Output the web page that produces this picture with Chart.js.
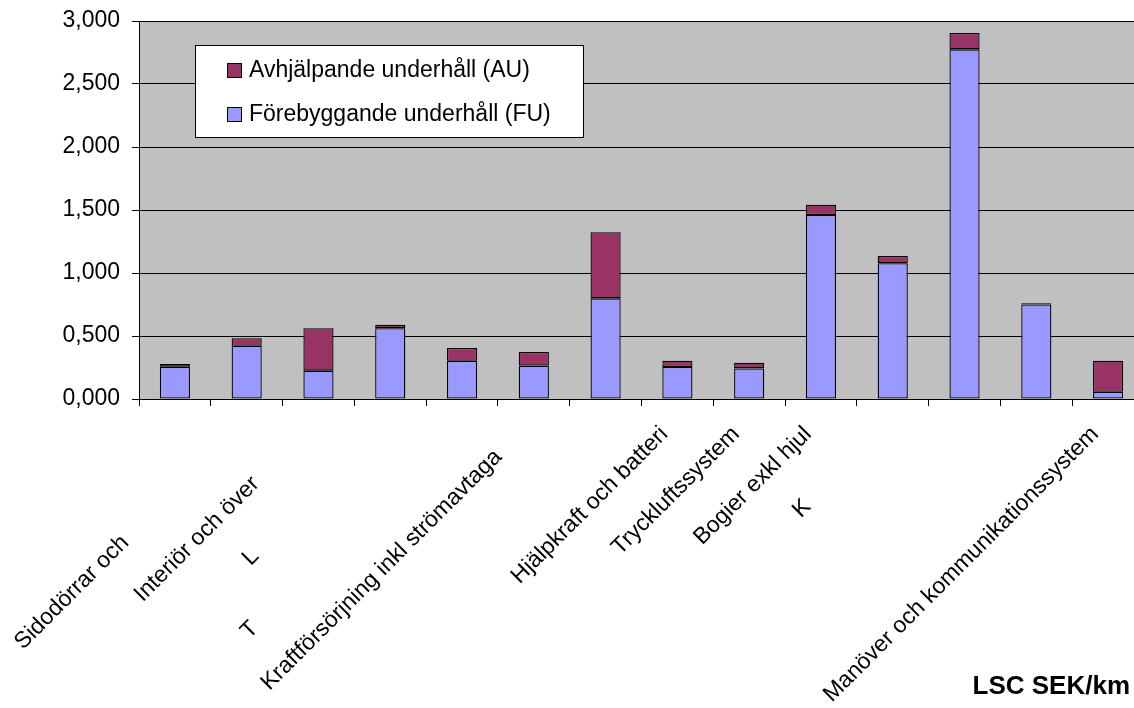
<!DOCTYPE html>
<html>
<head>
<meta charset="utf-8">
<script src="https://cdn.jsdelivr.net/npm/chart.js@4/dist/chart.umd.min.js"></script>
<style>
  html, body { margin: 0; padding: 0; background: #fff; overflow: hidden; }
  #wrap { width: 1134px; height: 708px; overflow: hidden; }
</style>
</head>
<body>
<div id="wrap"><canvas id="lscChart" width="1144" height="708"></canvas></div>
<script>
// categories as far as they can be read (the rest is clipped in the original)
const categories = [
    '', 'Sidodörrar och', 'Interiör och över', 'L', 'T',
    'Kraftförsörjning inkl strömavtaga', '', 'Hjälpkraft och batteri',
    'Tryckluftssystem', 'Bogier exkl hjul', 'K', '', '',
    'Manöver och kommunikationssystem'
];

// SEK/km
const fu_values = [0.255, 0.423, 0.225, 0.561, 0.304, 0.265, 0.799, 0.254, 0.243, 1.460, 1.077, 2.775, 0.750, 0.058];
const au_values = [0.023, 0.059, 0.336, 0.029, 0.101, 0.108, 0.524, 0.050, 0.045, 0.082, 0.058, 0.130, 0.010, 0.246];

const y_ticks = [0, 0.5, 1, 1.5, 2, 2.5, 3];

// hidden (clipped) part of each label, in spaces
const clippedTail = [0, 24, 11, 27, 43, 5, 0, 0, 0, 0, 16, 0, 0, 0];

const FONT = 'Arial, "Liberation Sans", sans-serif';

const plotBackground = {
    id: 'plotBackground',
    beforeDraw(chart) {
        const a = chart.chartArea;
        const ctx = chart.ctx;
        ctx.save();
        ctx.fillStyle = '#c0c0c0';
        ctx.fillRect(a.left, a.top, a.right - a.left, a.bottom - a.top);
        ctx.restore();
    }
};

const boxLegend = {
    id: 'boxLegend',
    afterDraw(chart) {
        const a = chart.chartArea;
        const ctx = chart.ctx;
        const x = a.left + 56, y = a.top + 24;
        ctx.save();
        ctx.fillStyle = '#fff';
        ctx.strokeStyle = '#000';
        ctx.lineWidth = 1;
        ctx.fillRect(x, y, 388, 92);
        ctx.strokeRect(x + 0.5, y + 0.5, 388, 92);
        ctx.font = '23px ' + FONT;
        ctx.textBaseline = 'middle';
        const sets = chart.data.datasets.slice().reverse();
        sets.forEach(function (ds, i) {
            const rowY = y + 26 + i * 44;
            ctx.fillStyle = ds.backgroundColor;
            ctx.fillRect(x + 32.5, rowY - 7.5, 14, 14);
            ctx.strokeRect(x + 32.5, rowY - 7.5, 14, 14);
            ctx.fillStyle = '#000';
            ctx.fillText(ds.label, x + 54, rowY);
        });
        // unit text bottom right
        ctx.font = 'bold 26px ' + FONT;
        ctx.textAlign = 'right';
        ctx.textBaseline = 'alphabetic';
        ctx.fillText('LSC SEK/km', 1130, 694);
        ctx.restore();
    }
};

const data = {
    labels: categories,
    datasets: [{
        label: 'Förebyggande underhåll (FU)',
        data: fu_values,
        backgroundColor: '#9999ff',
        borderColor: '#000',
        borderWidth: 1.3,
        borderSkipped: false
    }, {
        label: 'Avhjälpande underhåll (AU)',
        data: au_values,
        backgroundColor: '#993366',
        borderColor: '#000',
        borderWidth: 1.3,
        borderSkipped: false
    }]
};

const config = {
    type: 'bar',
    data: data,
    options: {
        responsive: false,
        animation: false,
        devicePixelRatio: 1,
        categoryPercentage: 1,
        barPercentage: 0.42,
        layout: { padding: { top: 21, left: 0, right: 0, bottom: 0 } },
        plugins: {
            legend: { display: false },
            tooltip: { enabled: false }
        },
        scales: {
            x: {
                stacked: true,
                border: { color: '#000', width: 1 },
                grid: { drawOnChartArea: false, offset: true, tickLength: 7, color: '#000' },
                ticks: {
                    autoSkip: false,
                    minRotation: 45,
                    maxRotation: 45,
                    padding: 15,
                    labelOffset: -13,
                    color: '#000',
                    font: { family: FONT, size: 23 },
                    callback: function (v, i) {
                        return categories[i] + '\u00a0'.repeat(clippedTail[i]);
                    }
                },
                afterFit: function (scale) { scale.height = 309; }
            },
            y: {
                stacked: true,
                min: 0,
                max: 3,
                afterBuildTicks: function (scale) {
                    scale.ticks = y_ticks.map(function (v) { return { value: v }; });
                },
                border: { color: '#000', width: 1 },
                grid: { color: '#000', tickLength: 7, tickColor: '#000' },
                ticks: {
                    padding: 12,
                    color: '#000',
                    font: { family: FONT, size: 23, lineHeight: 0.7 },
                    callback: function (v) { return v.toFixed(3).replace('.', ','); }
                },
                afterFit: function (scale) { scale.width = 139; }
            }
        }
    },
    plugins: [plotBackground, boxLegend]
};

const lscChart = new Chart(document.getElementById('lscChart'), config);
</script>
</body>
</html>
